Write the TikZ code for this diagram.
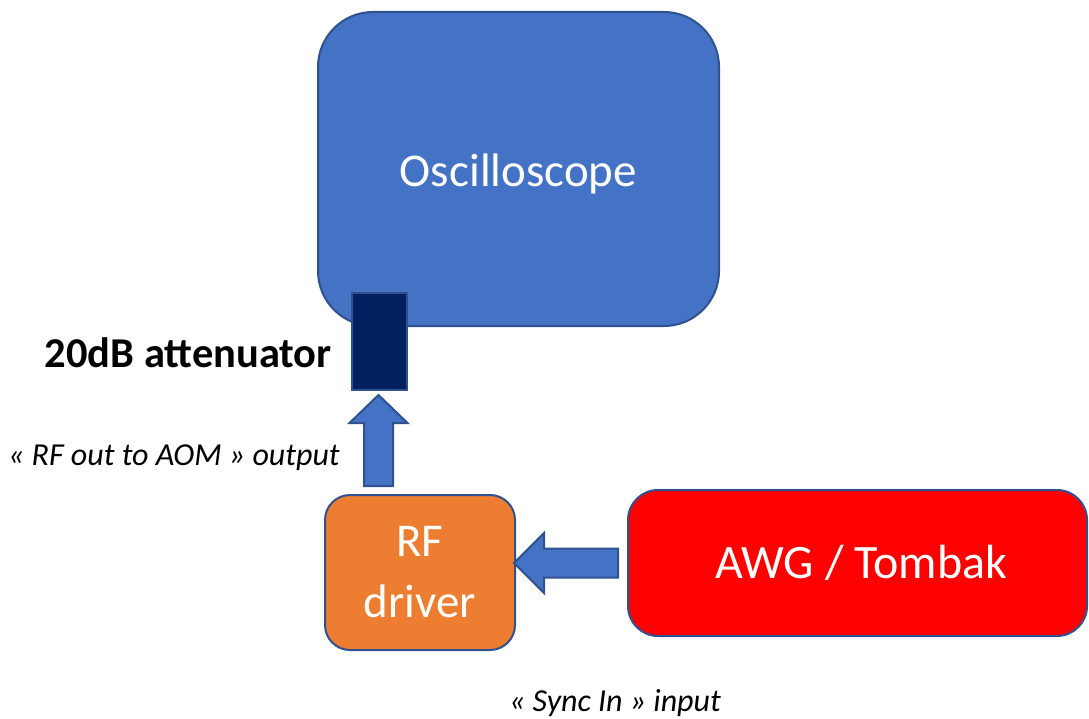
\documentclass[tikz,border=0pt]{standalone}
\usepackage{fontspec}
\setmainfont{Carlito}
\usetikzlibrary{calc}
\definecolor{oscblue}{HTML}{4472C4}
\definecolor{edgeblue}{HTML}{2F528F}
\definecolor{attnavy}{HTML}{002060}
\definecolor{drvorange}{HTML}{ED7D31}
\definecolor{awgred}{HTML}{FF0000}
\tikzset{
  box/.style={draw=edgeblue, line width=2pt, text=white, inner sep=0pt, align=center,
    font=\fontsize{47}{56}\selectfont},
  blockarrow/.style={draw=edgeblue, fill=oscblue, line width=2pt, line join=miter},
  lbl/.style={inner sep=0pt, font=\fontsize{32}{38}\selectfont\itshape},
}
\begin{document}
\begin{tikzpicture}[x=1pt,y=-1pt]
\useasboundingbox (0,0) rectangle (1089,719);
\node[box, fill=oscblue, minimum width=401pt, minimum height=314pt, rounded corners=55pt,
  text height=46pt, text depth=10pt] (osc) at (518.5,169) {Oscilloscope};
\node[box, fill=attnavy, minimum width=55pt, minimum height=97pt] (att) at (379.5,341.5) {};
\node[box, fill=drvorange, minimum width=190pt, minimum height=155pt, rounded corners=25pt] (drv) at (420,572.5) {RF\\[5pt]driver};
\node[box, fill=awgred, minimum width=459pt, minimum height=146pt, rounded corners=30pt] (awg) at (857.5,563) {\hspace*{8pt}\fontsize{48}{56}\selectfont AWG / Tombak};

% up arrow (RF driver -> attenuator)
\path (att.south) ++(-1,4) coordinate (ut);
\path (ut |- drv.north) ++(0,-8) coordinate (ub);
\draw[blockarrow] (ut) -- ([shift={(29,28)}]ut) -- ([shift={(14.5,28)}]ut) -- ([shift={(14.5,0)}]ub)
  -- ([shift={(-14.5,0)}]ub) -- ([shift={(-14.5,28)}]ut) -- ([shift={(-29,28)}]ut) -- cycle;

% left arrow (AWG -> RF driver)
\path (drv.east |- awg.west) ++(-2,0) coordinate (lt);
\path (awg.west) ++(-9,0) coordinate (lb);
\draw[blockarrow] (lt) -- ([shift={(30,-30)}]lt) -- ([shift={(30,-14.5)}]lt) -- ([shift={(0,-14.5)}]lb)
  -- ([shift={(0,14.5)}]lb) -- ([shift={(30,14.5)}]lt) -- ([shift={(30,30)}]lt) -- cycle;

\node[inner sep=0pt, anchor=east, font=\fontsize{42.5}{50}\selectfont\bfseries] (attlbl) at (332,353) {20dB attenuator};
\node[lbl, anchor=east] (outlbl) at (340,458) {« RF out to AOM » output};
\node[lbl] (synclbl) at (615,703) {« Sync In » input};
\end{tikzpicture}
\end{document}
